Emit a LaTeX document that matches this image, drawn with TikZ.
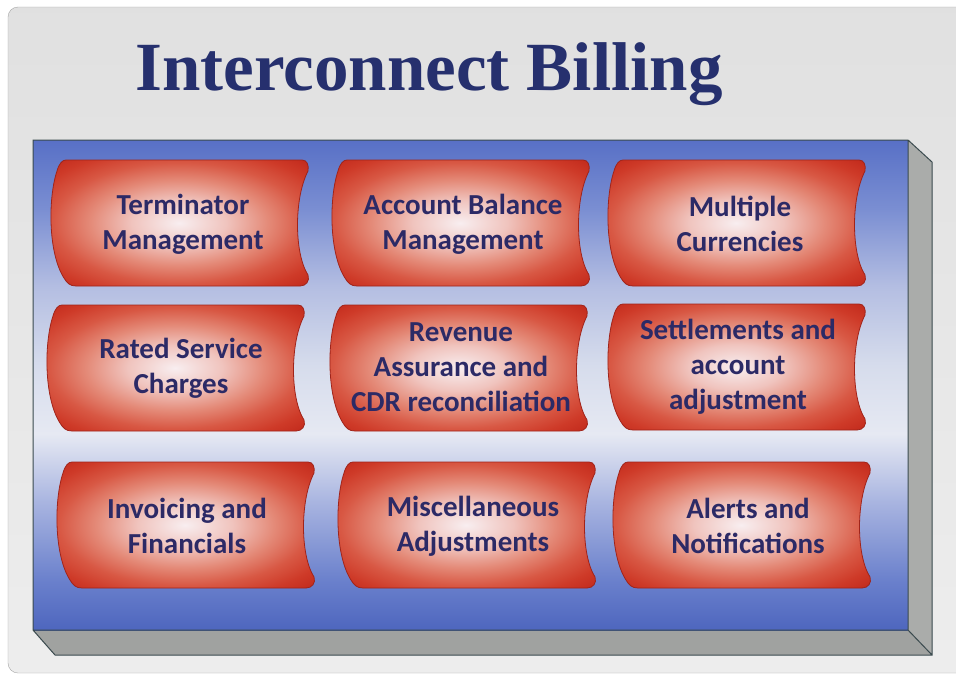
\documentclass[tikz,border=0pt]{standalone}
\usepackage{fontspec}
\setmainfont{Carlito}
\newfontfamily\titlefont{Liberation Serif}
\usepackage{tikz}
\definecolor{titleblue}{RGB}{38,48,110}
\definecolor{textblue}{RGB}{44,42,102}
\definecolor{glowa}{RGB}{248,238,240}
\definecolor{glowb}{RGB}{240,196,190}
\definecolor{glowc}{RGB}{228,138,120}
\definecolor{glowd}{RGB}{216,88,68}
\definecolor{glowe}{RGB}{206,58,40}
\definecolor{glowf}{RGB}{194,42,28}
\definecolor{glowg}{RGB}{180,34,24}
\definecolor{boxedge}{RGB}{160,36,26}
\definecolor{panbot}{RGB}{78,102,190}
\definecolor{panlow}{RGB}{106,128,204}
\definecolor{panlight}{RGB}{168,180,224}
\definecolor{panwhite}{RGB}{230,233,243}
\definecolor{panmid}{RGB}{214,220,236}
\definecolor{panupper}{RGB}{180,190,226}
\definecolor{panhigh}{RGB}{122,142,210}
\definecolor{pantop}{RGB}{88,112,198}
\definecolor{sidegray}{RGB}{170,172,170}
\definecolor{floorgray}{RGB}{160,162,160}
\definecolor{edgegray}{RGB}{58,74,78}
\pgfdeclareradialshading{redglow}{\pgfpoint{0bp}{0bp}}{color(0bp)=(glowa); color(9bp)=(glowb); color(17bp)=(glowc); color(24bp)=(glowd); color(30bp)=(glowe); color(35bp)=(glowf); color(50bp)=(glowg)}
\pgfdeclareverticalshading{panelshade}{100bp}{color(0bp)=(panbot); color(25bp)=(panbot); color(30bp)=(panlow); color(38bp)=(panlight); color(45bp)=(panwhite); color(52bp)=(panmid); color(60bp)=(panupper); color(68bp)=(panhigh); color(75bp)=(pantop); color(100bp)=(pantop)}
\tikzset{
  title_/.style = {text=titleblue, anchor=base, font=\titlefont\bfseries\fontsize{69}{72}\selectfont},
  label_/.style = {text=textblue, align=center, font=\bfseries\fontsize{29}{35}\selectfont},
  tape_/.pic = {
    \path[shading=redglow, draw=boxedge, line width=0.8pt]
      (-114,-63) -- (122,-63)
      .. controls (127,-63) and (129,-58) .. (128,-52)
      .. controls (114,-25) and (114,30) .. (128,52)
      .. controls (130,58) and (126,63) .. (120,63)
      -- (-104,63)
      .. controls (-110,63) and (-113,60) .. (-116,55)
      .. controls (-132,30) and (-132,-25) .. (-123,-52)
      .. controls (-121,-59) and (-118,-63) .. (-114,-63) -- cycle;
  }
}
\begin{document}
\begin{tikzpicture}[x=1pt, y=-1pt]
  \useasboundingbox (0,0) rectangle (956,675);
  \fill[white] (0,0) rectangle (956,675);
  \draw[draw=gray!70, top color=black!12, bottom color=black!7, rounded corners=10pt]
    (8,7) rectangle (980,673);
  \node[title_] (title) at (429,90) {Interconnect Billing};

  \fill[sidegray] (908,140) -- (932,162) -- (932,655) -- (908,630) -- cycle;
  \fill[floorgray] (33,630) -- (908,630) -- (932,655) -- (55,655) -- cycle;
  \path[shading=panelshade] (33,140) rectangle (908,630);
  \draw[edgegray, line width=1pt]
    (33,140) -- (908,140) -- (932,162) -- (932,655) -- (55,655) -- (33,630) -- cycle
    (33,630) -- (908,630) -- (908,140)
    (908,630) -- (932,655);

  \pic (tape11) at (180,223) {tape_};
  \pic (tape12) at (461,223) {tape_};
  \pic (tape13) at (737,223) {tape_};
  \pic (tape21) at (176,368) {tape_};
  \pic (tape22) at (459,368) {tape_};
  \pic (tape23) at (737,367) {tape_};
  \pic (tape31) at (186,525) {tape_};
  \pic (tape32) at (467,525) {tape_};
  \pic (tape33) at (742,525) {tape_};

  \node[label_] (term) at (183,224) {Terminator\\Management};
  \node[label_] (acct) at (463,224) {Account Balance\\Management};
  \node[label_] (curr) at (740,224) {Multiple\\Currencies};
  \node[label_] (rated) at (181,368) {Rated Service\\Charges};
  \node[label_] (rev) at (461,367) {Revenue\\Assurance and\\CDR reconciliation};
  \node[label_] (settle) at (738,367) {Settlements and\\account\\adjustment};
  \node[label_] (inv) at (187,526) {Invoicing and\\Financials};
  \node[label_] (misc) at (473,526) {Miscellaneous\\Adjustments};
  \node[label_] (alert) at (748,526) {Alerts and\\Notifications};
\end{tikzpicture}
\end{document}
